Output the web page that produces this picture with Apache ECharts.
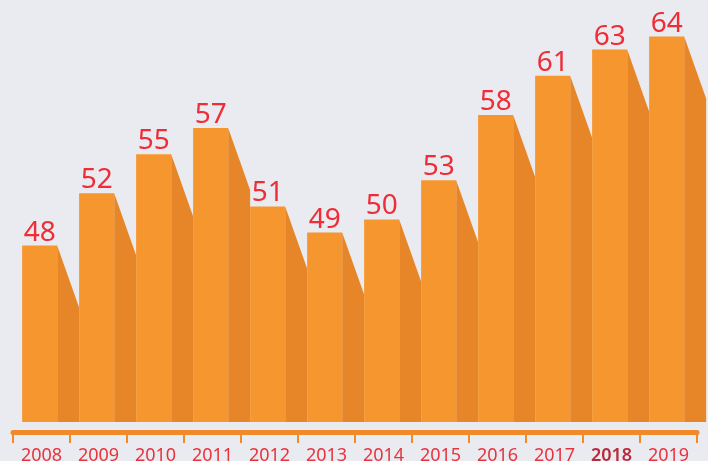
<!DOCTYPE html>
<html>
<head>
<meta charset="utf-8">
<style>
  html, body { margin: 0; padding: 0; background: #eaebf1; }
  #main { width: 708px; height: 461px; }
</style>
<script src="https://cdn.jsdelivr.net/npm/echarts@6/dist/echarts.min.js"></script>
</head>
<body>
<div id="main"></div>
<script>
// 年份和数值
var years = ['2008', '2009', '2010', '2011', '2012', '2013', '2014', '2015', '2016', '2017', '2018', '2019'];
var values = [48, 52, 55, 57, 51, 49, 50, 53, 58, 61, 63, 64];
var yMin = 34.5;
var yMax = 64.5;

var myChart = echarts.init(document.getElementById('main'));

// 画柱子: 正面 + 右侧斜阴影
function renderItem(params, api) {
    var idx = api.value(0);
    var top = api.coord([idx, api.value(1)]);
    var base = api.coord([idx, yMin]);
    var band = api.size([1, 0])[0];
    var x0 = top[0] - band / 2 + band * 0.16;
    var w = band * 0.615;
    var sw = band * 0.385;
    var drop = Math.min(62, base[1] - top[1]);
    return {
        type: 'group',
        children: [
            {
                type: 'polygon',
                shape: { points: [[x0 + w, top[1]], [x0 + w + sw, top[1] + drop], [x0 + w + sw, base[1]], [x0 + w, base[1]]] },
                style: { fill: '#e68628' }
            },
            {
                type: 'rect',
                shape: { x: x0, y: top[1], width: w, height: base[1] - top[1] },
                style: { fill: '#f6962f' }
            },
            {
                type: 'text',
                style: {
                    text: String(api.value(1)),
                    x: x0 + w / 2,
                    y: top[1] + 1,
                    align: 'center',
                    verticalAlign: 'bottom',
                    fill: '#ee2d37',
                    font: '28px "Noto Sans"'
                }
            }
        ]
    };
}

var option = {
    backgroundColor: '#eaebf1',
    animation: false,
    grid: { left: 13, right: 11, top: 30, bottom: 39, containLabel: false, outerBoundsMode: 'none' },
    xAxis: {
        type: 'category',
        data: years,
        offset: 10,
        axisLine: { lineStyle: { color: '#f08a2b', width: 5 } },
        axisTick: { show: true, interval: 0, length: 11, lineStyle: { color: '#f08a2b', width: 2 } },
        axisLabel: {
            interval: 0,
            margin: 15,
            color: '#e8333c',
            fontSize: 18,
            fontFamily: 'Noto Sans',
            formatter: function (v) {
                return v === '2018' ? '{b|' + v + '}' : v;
            },
            rich: {
                b: { color: '#b92b3c', fontSize: 18, fontWeight: 600, fontFamily: 'Noto Sans' }
            }
        }
    },
    yAxis: {
        type: 'value',
        min: yMin,
        max: yMax,
        show: false,
        splitLine: { show: false }
    },
    series: [
        {
            type: 'custom',
            renderItem: renderItem,
            clip: false,
            data: years.map(function (y, i) { return [i, values[i]]; })
        }
    ]
};

myChart.setOption(option);
</script>
</body>
</html>
